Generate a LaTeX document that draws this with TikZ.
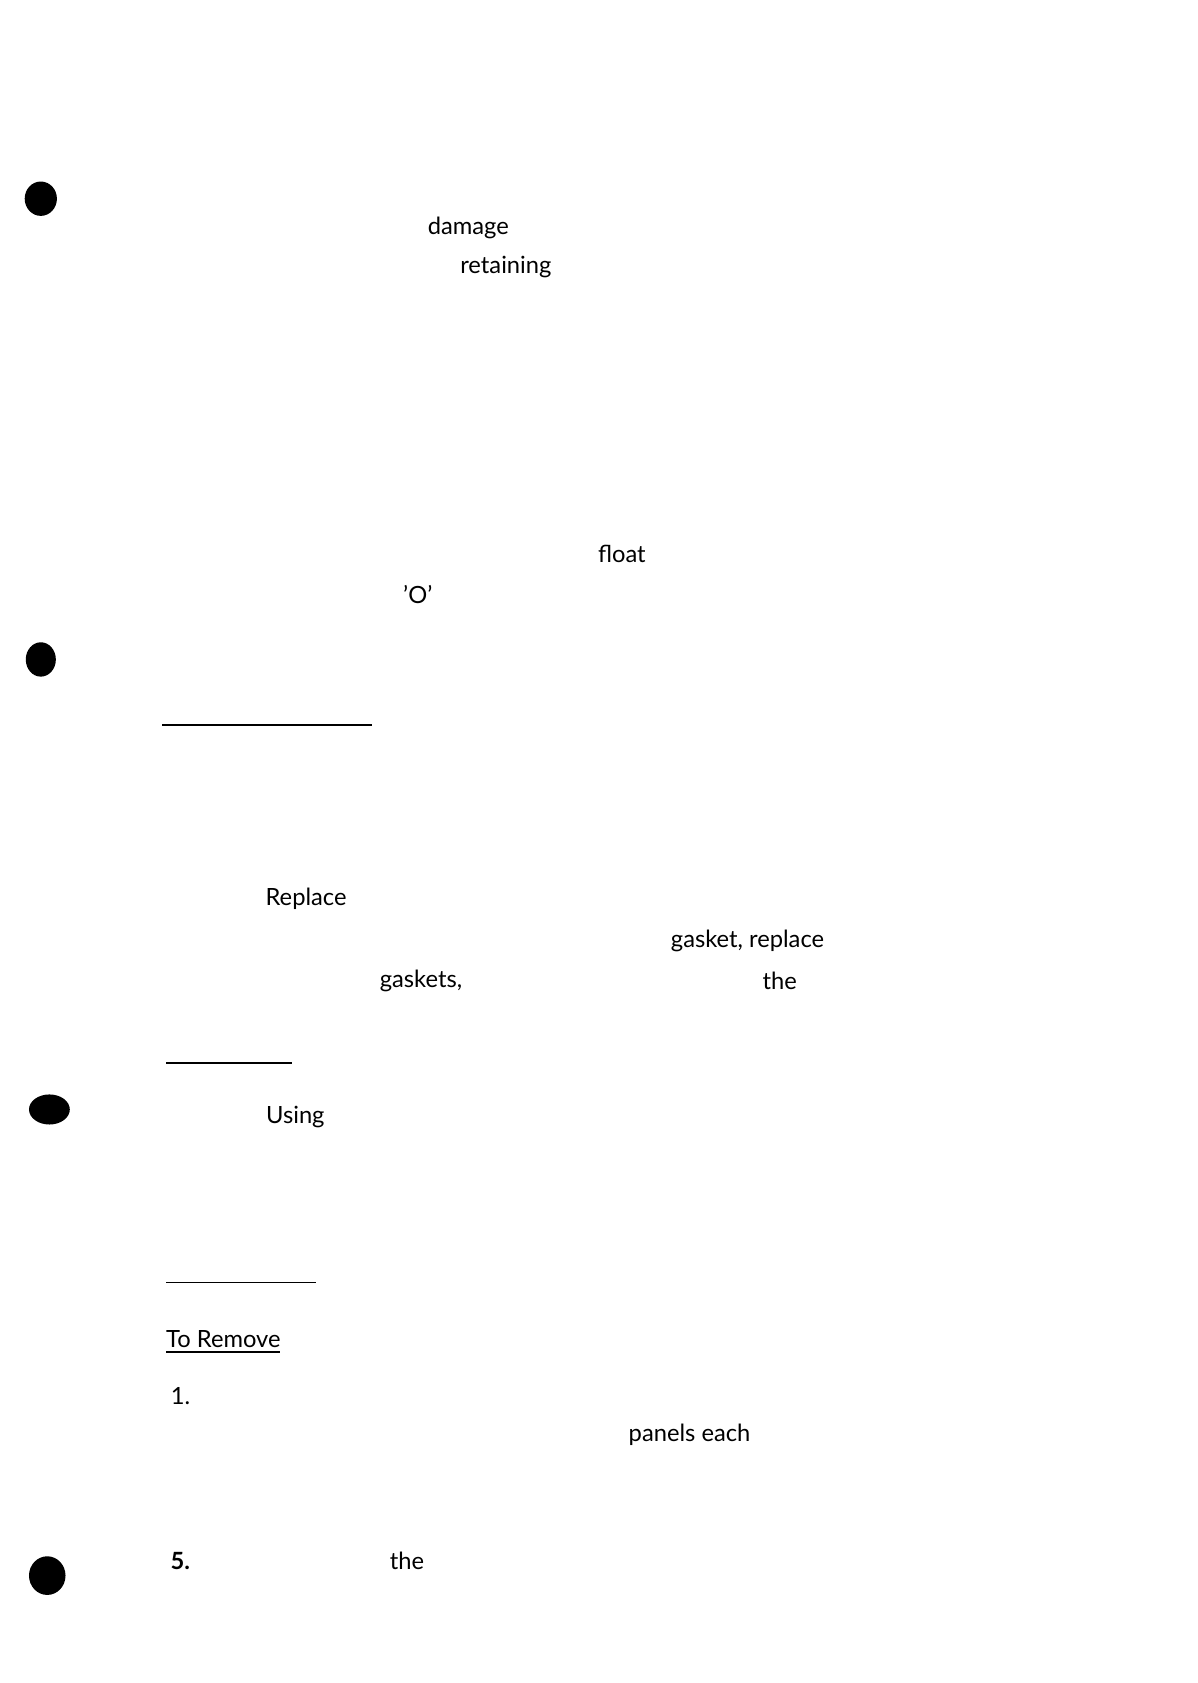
\documentclass[tikz,border=0pt]{standalone}
\usepackage{fontspec}
\setmainfont{Lato}
\begin{document}
\begin{tikzpicture}[x=0.02148cm,y=-0.02148cm,
  word/.style={inner sep=0pt,font=\fontsize{13.5}{16}\selectfont},
  rule/.style={line width=1pt},
  hole/.style={fill=black}]
\useasboundingbox (0,0) rectangle (1115,1567);
% punch holes
\fill[hole] (38,185) ellipse (15 and 16);
\fill[hole] (38,614) ellipse (14 and 16);
\fill[hole] (46,1033) ellipse (19 and 14);
\fill[hole] (44,1467) ellipse (17 and 18);
% words
\node[word] (damage) at (436,212) {damage};
\node[word] (retaining) at (471,249) {retaining};
\node[word] (float) at (579,516) {float};
\node[word] (oring) at (389,554) {'O'};
\node[word] (replace) at (285,837) {Replace};
\node[word] (gasket) at (696,876) {gasket, replace};
\node[word] (gaskets) at (392,913) {gaskets,};
\node[word] (the1) at (726,913) {the};
\node[word] (using) at (275,1040) {Using};
\node[word] (remove) at (208,1247) {To Remove};
\node[word] (one) at (168,1300) {1.};
\node[word] (panels) at (642,1336) {panels each};
\node[word,font=\fontsize{13.5}{16}\bfseries] (five) at (168,1453) {5.};
\node[word] (the2) at (379,1453) {the};
% rules
\draw[rule] (151,675) -- (346,675);
\draw[rule] (155,990) -- (272,990);
\draw[rule] (155,1194) -- (294,1194);
\draw[rule] (155,1259) -- (261,1259);
\end{tikzpicture}
\end{document}
